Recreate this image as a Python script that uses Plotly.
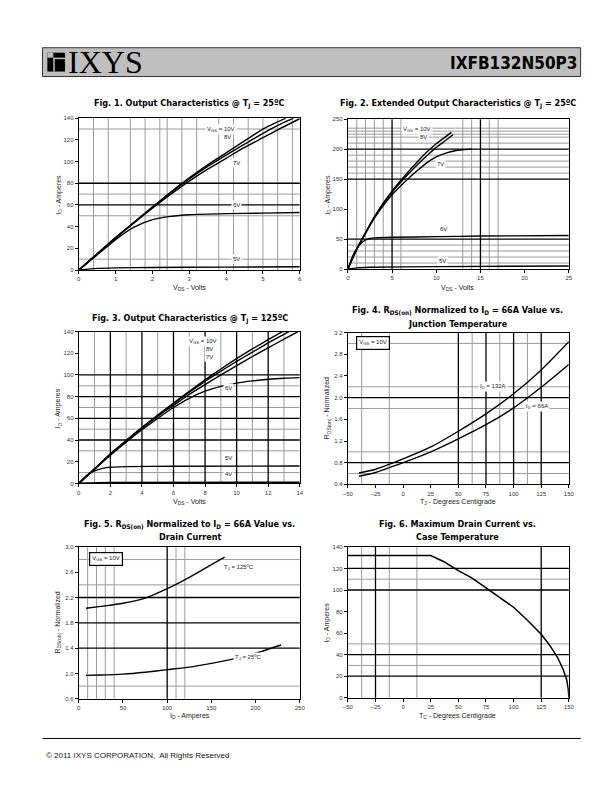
import plotly.graph_objects as go

W, H = 612, 792

# ---------------- Fig.1 Output characteristics @ 25C ----------------
f1_vgs10_x = [0, 0.5, 1, 1.5, 2, 2.5, 3, 3.5, 4, 4.5, 5, 5.62]
f1_vgs10_y = [0, 15, 30, 44, 58, 72, 85, 97, 108, 119, 130, 140]
f1_vgs8_x = [0, 0.5, 1, 1.5, 2, 2.5, 3, 3.5, 4, 4.5, 5, 5.5, 5.83]
f1_vgs8_y = [0, 15, 30, 44, 58, 71.5, 84, 95.5, 106, 116, 126, 135, 140]
f1_vgs7_x = [0, 0.5, 1, 1.5, 2, 2.5, 3, 3.5, 4, 4.5, 5, 5.5, 6]
f1_vgs7_y = [0, 15, 29.5, 43.5, 57, 70, 82, 93, 103, 113, 122, 131, 139.5]
f1_vgs6_x = [0, 0.5, 1, 1.5, 2, 2.5, 3, 4, 5, 6]
f1_vgs6_y = [0, 14, 28, 39.5, 46.5, 49.5, 51, 52, 52.5, 53]
f1_vgs5_x = [0, 0.5, 1, 2, 4, 6]
f1_vgs5_y = [0, 1.5, 2, 2.3, 2.7, 3]

# ---------------- Fig.2 Extended output characteristics ----------------
f2_vgs10_x = [0, 1, 2, 3, 4, 5, 6, 7, 8, 9, 10, 11, 11.7]
f2_vgs10_y = [0, 33, 61, 87, 110, 130, 148, 165, 181, 196, 209, 220, 228]
f2_vgs8_x = [0, 1, 2, 3, 4, 5, 6, 7, 8, 9, 10, 11, 11.9]
f2_vgs8_y = [0, 33, 60, 86, 109, 128, 145, 161, 176, 190, 203, 214, 224]
f2_vgs7_x = [0, 1, 2, 3, 4, 5, 6, 7, 8, 9, 10, 11, 12, 13, 14]
f2_vgs7_y = [0, 33, 60, 85, 106, 124, 139, 153, 166, 178, 187, 193, 197, 199, 200]
f2_vgs6_x = [0, 0.5, 1, 1.5, 2, 2.5, 3, 5, 10, 15, 25]
f2_vgs6_y = [0, 20, 34, 43, 48.5, 51, 52, 53, 54, 55, 56]
f2_vgs5_x = [0, 1, 2.5, 10, 25]
f2_vgs5_y = [0, 2, 3, 4, 5]

# ---------------- Fig.3 Output characteristics @ 125C ----------------
f3_vgs10_x = [0, 1, 2, 3, 4, 5, 6, 7, 8, 9, 10, 11, 12, 12.9]
f3_vgs10_y = [0, 13.5, 27, 39.5, 51.5, 63, 74, 85, 95.5, 105.5, 115, 124, 132.5, 140]
f3_vgs8_x = [0, 1, 2, 3, 4, 5, 6, 7, 8, 9, 10, 11, 12, 13, 13.3]
f3_vgs8_y = [0, 13.5, 27, 39.5, 51.5, 62.5, 73.5, 84, 94, 103.5, 112.5, 121, 129.5, 137.5, 140]
f3_vgs7_x = [0, 1, 2, 3, 4, 5, 6, 7, 8, 9, 10, 11, 12, 13, 13.9]
f3_vgs7_y = [0, 13.5, 27, 39, 51, 62, 72, 82, 91, 100, 108.5, 117, 125, 133, 140]
f3_vgs6_x = [0, 1, 2, 3, 4, 5, 6, 7, 8, 9, 10, 11, 12, 13, 14]
f3_vgs6_y = [0, 13, 26, 38, 49.5, 60, 70, 78.5, 85, 89.5, 92.5, 94.5, 96, 97, 97.5]
f3_vgs5_x = [0, 0.5, 1, 1.5, 2, 3, 6, 14]
f3_vgs5_y = [0, 7.5, 11.5, 13.8, 15, 15.5, 15.8, 16]
f3_vgs4_x = [0, 2, 14]
f3_vgs4_y = [0, 0.5, 0.8]

# ---------------- Fig.4 RDS(on) vs junction temperature ----------------
f4_tj = [-40, -25, 0, 25, 50, 75, 100, 125, 150]
f4_id132 = [0.61, 0.68, 0.87, 1.09, 1.38, 1.70, 2.07, 2.51, 3.03]
f4_id66 = [0.55, 0.62, 0.80, 1.00, 1.24, 1.50, 1.81, 2.19, 2.61]

# ---------------- Fig.5 RDS(on) vs drain current ----------------
f5_id_125 = [8, 25, 50, 75, 100, 125, 150, 165]
f5_r_125 = [2.03, 2.06, 2.11, 2.19, 2.34, 2.52, 2.72, 2.84]
f5_id_25 = [8, 25, 50, 75, 100, 125, 150, 175, 200, 229]
f5_r_25 = [0.97, 0.975, 0.99, 1.02, 1.06, 1.10, 1.16, 1.23, 1.32, 1.45]

# ---------------- Fig.6 Max drain current vs case temperature ----------------
f6_tc = [-50, 25, 37.5, 50, 62.5, 75, 87.5, 100, 112.5, 125, 132.5, 140, 145, 148, 149.5, 150]
f6_id = [132, 132, 126, 118, 111, 102, 93, 84, 72, 59, 49, 37, 26, 17, 8, 0]

# ---------------- tick labels ----------------
f1_xticks = [0, 1, 2, 3, 4, 5, 6]
f1_yticks = [0, 20, 40, 60, 80, 100, 120, 140]
f2_xticks = [0, 5, 10, 15, 20, 25]
f2_yticks = [0, 50, 100, 150, 200, 250]
f3_xticks = [0, 2, 4, 6, 8, 10, 12, 14]
f3_yticks = [0, 20, 40, 60, 80, 100, 120, 140]
f4_xticks = [-50, -25, 0, 25, 50, 75, 100, 125, 150]
f4_yticks = [0.4, 0.8, 1.2, 1.6, 2.0, 2.4, 2.8, 3.2]
f5_xticks = [0, 50, 100, 150, 200, 250]
f5_yticks = [0.6, 1.0, 1.4, 1.8, 2.2, 2.6, 3.0]
f6_xticks = [-50, -25, 0, 25, 50, 75, 100, 125, 150]
f6_yticks = [0, 20, 40, 60, 80, 100, 120, 140]

# ---------------- grid lines (irregular datasheet grid) ----------------
f1_vgray = [0.4, 0.8, 1.4, 1.8, 2.2, 2.4, 2.8, 3.2, 3.8, 4.2, 4.6, 5.0, 5.4, 5.8]
f1_vblack = []
f1_hgray = [10, 50, 70, 130]
f1_hblack = [60, 80]
f2_vgray = [1, 2, 3, 4, 6, 13, 14, 16, 17]
f2_vblack = [5, 15]
f2_hgray = [10, 20, 30, 40, 160, 170, 180, 190, 210, 220, 225, 230, 235]
f2_hblack = [50, 150, 200]
f3_vgray = [1, 3, 5, 7, 9, 11, 13]
f3_vblack = [2, 4, 6, 8, 10, 12]
f3_hgray = [10, 30, 50, 70, 90]
f3_hblack = [40, 60, 80, 100]
f4_vgray = [-37.5, -12.5, 62.5, 87.5, 112.5]
f4_vblack = [50, 75, 100, 125]
f4_hgray = [0.6, 1.0, 1.8, 2.2, 3.0]
f4_hblack = [0.8, 2.0]
f5_vgray = [10, 20, 30, 40, 110, 120]
f5_vblack = [100]
f5_hgray = [0.8, 2.4, 2.8]
f5_hblack = [1.4, 1.8, 2.2]
f6_vgray = [-37.5, -12.5, 12.5]
f6_vblack = [-25, 125]
f6_hgray = [30, 50, 110]
f6_hblack = [20, 40, 100, 120]

TITLE_FONT = "Liberation Sans Narrow, Arial Narrow, DejaVu Sans Condensed, Liberation Sans, sans-serif"
TEXT_FONT = "Liberation Sans, Arial, sans-serif"
GRAY = "#9a9a9a"


def px(x):
    return x / W


def py(y):
    return 1 - y / H


panels = {
    1: dict(x=(67, 292), y=(108, 261), xr=[0, 6], yr=[0, 140], xt=f1_xticks, yt=f1_yticks, fmt=None,
            grid=(f1_vgray, f1_vblack, f1_hgray, f1_hblack)),
    2: dict(x=(341, 566), y=(109, 260), xr=[0, 25], yr=[0, 250], xt=f2_xticks, yt=f2_yticks, fmt=None,
            grid=(f2_vgray, f2_vblack, f2_hgray, f2_hblack)),
    3: dict(x=(67, 292), y=(323, 476), xr=[0, 14], yr=[0, 140], xt=f3_xticks, yt=f3_yticks, fmt=None,
            grid=(f3_vgray, f3_vblack, f3_hgray, f3_hblack)),
    4: dict(x=(341, 566), y=(324, 477), xr=[-50, 150], yr=[0.4, 3.2], xt=f4_xticks, yt=f4_yticks, fmt=".1f",
            grid=(f4_vgray, f4_vblack, f4_hgray, f4_hblack)),
    5: dict(x=(67, 292), y=(540, 693), xr=[0, 250], yr=[0.6, 3.0], xt=f5_xticks, yt=f5_yticks, fmt=".1f",
            grid=(f5_vgray, f5_vblack, f5_hgray, f5_hblack)),
    6: dict(x=(341, 566), y=(540, 692), xr=[-50, 150], yr=[0, 140], xt=f6_xticks, yt=f6_yticks, fmt=None,
            grid=(f6_vgray, f6_vblack, f6_hgray, f6_hblack)),
}

fig = go.Figure()
layout = dict(
    width=W, height=H, margin=dict(l=0, r=0, t=0, b=0),
    paper_bgcolor="white", plot_bgcolor="white", showlegend=False,
    font=dict(family=TEXT_FONT, color="#222"),
)
shapes = []
annotations = []

for n, p in panels.items():
    sx = "" if n == 1 else str(n)
    layout["xaxis" + sx] = dict(
        domain=[px(p["x"][0]), px(p["x"][1])], range=p["xr"], anchor="y" + sx,
        tickvals=p["xt"], showgrid=False, zeroline=False, showline=True, mirror=True,
        linecolor="black", linewidth=1.2, ticks="outside", ticklen=3, tickcolor="black",
        tickfont=dict(size=6, color="#333", family=TEXT_FONT),
    )
    layout["yaxis" + sx] = dict(
        domain=[py(p["y"][1]), py(p["y"][0])], range=p["yr"], anchor="x" + sx,
        tickvals=p["yt"], showgrid=False, zeroline=False, showline=True, mirror=True,
        linecolor="black", linewidth=1.2, ticks="outside", ticklen=3, tickcolor="black",
        tickfont=dict(size=6, color="#333", family=TEXT_FONT),
    )
    if p["fmt"]:
        layout["yaxis" + sx]["tickformat"] = p["fmt"]
    vg, vb, hg, hb = p["grid"]
    xr, yr = "x" + sx, "y" + sx
    for v in vg:
        shapes.append(dict(type="line", xref=xr, yref=yr + " domain", x0=v, x1=v, y0=0, y1=1,
                           line=dict(color=GRAY, width=1), layer="below"))
    for v in hg:
        shapes.append(dict(type="line", xref=xr + " domain", yref=yr, x0=0, x1=1, y0=v, y1=v,
                           line=dict(color=GRAY, width=1), layer="below"))
    for v in vb:
        shapes.append(dict(type="line", xref=xr, yref=yr + " domain", x0=v, x1=v, y0=0, y1=1,
                           line=dict(color="black", width=1.3), layer="below"))
    for v in hb:
        shapes.append(dict(type="line", xref=xr + " domain", yref=yr, x0=0, x1=1, y0=v, y1=v,
                           line=dict(color="black", width=1.3), layer="below"))


def curve(n, xs, ys, width=1.4, smooth=True):
    sx = "" if n == 1 else str(n)
    line = dict(color="black", width=width)
    if smooth:
        line.update(shape="spline", smoothing=0.6)
    fig.add_trace(go.Scatter(x=xs, y=ys, mode="lines", xaxis="x" + sx, yaxis="y" + sx,
                             line=line, hoverinfo="skip"))


curve(1, f1_vgs10_x, f1_vgs10_y)
curve(1, f1_vgs8_x, f1_vgs8_y)
curve(1, f1_vgs7_x, f1_vgs7_y)
curve(1, f1_vgs6_x, f1_vgs6_y)
curve(1, f1_vgs5_x, f1_vgs5_y)
curve(2, f2_vgs10_x, f2_vgs10_y)
curve(2, f2_vgs8_x, f2_vgs8_y)
curve(2, f2_vgs7_x, f2_vgs7_y)
curve(2, f2_vgs6_x, f2_vgs6_y)
curve(2, f2_vgs5_x, f2_vgs5_y)
curve(3, f3_vgs10_x, f3_vgs10_y)
curve(3, f3_vgs8_x, f3_vgs8_y)
curve(3, f3_vgs7_x, f3_vgs7_y)
curve(3, f3_vgs6_x, f3_vgs6_y)
curve(3, f3_vgs5_x, f3_vgs5_y)
curve(3, f3_vgs4_x, f3_vgs4_y, width=2)
curve(4, f4_tj, f4_id132)
curve(4, f4_tj, f4_id66)
curve(5, f5_id_125, f5_r_125)
curve(5, f5_id_25, f5_r_25)
curve(6, f6_tc, f6_id, width=1.5, smooth=False)


def label(n, x, y, text, box=False, size=6):
    sx = "" if n == 1 else str(n)
    a = dict(xref="x" + sx, yref="y" + sx, x=x, y=y, text=text, showarrow=False,
             font=dict(size=size, color="#222", family=TEXT_FONT), bgcolor="white",
             xanchor="center", yanchor="middle", borderpad=1)
    if box:
        a.update(bordercolor="black", borderwidth=1.2, borderpad=2, xanchor="left")
    annotations.append(a)


label(1, 3.85, 130, "V<sub>GS</sub> = 10V")
label(1, 4.05, 123, "8V")
label(1, 4.27, 99, "7V")
label(1, 4.27, 60, "6V")
label(1, 4.27, 10, "5V")
label(2, 7.8, 233, "V<sub>GS</sub> = 10V")
label(2, 8.6, 221, "8V")
label(2, 10.5, 175, "7V")
label(2, 10.8, 66, "6V")
label(2, 10.7, 13, "5V")
label(3, 7.9, 131, "V<sub>GS</sub> = 10V")
label(3, 8.3, 124, "8V")
label(3, 8.3, 117, "7V")
label(3, 9.5, 88, "6V")
label(3, 9.5, 23.5, "5V")
label(3, 9.5, 8.5, "4V")
label(4, 81, 2.2, "I<sub>D</sub> = 132A")
label(4, 121, 1.83, "I<sub>D</sub> = 66A")
label(4, -43, 3.0, "V<sub>GS</sub> = 10V", box=True)
label(5, 181, 2.68, "T<sub>J</sub> = 125ºC")
label(5, 191, 1.25, "T<sub>J</sub> = 25ºC")
label(5, 11, 2.81, "V<sub>GS</sub> = 10V", box=True)


def ptext(x, y, text, size=7, family=TEXT_FONT, xanchor="center", angle=0, color="#222"):
    annotations.append(dict(xref="paper", yref="paper", x=px(x), y=py(y), text=text, showarrow=False,
                            font=dict(size=size, family=family, color=color),
                            xanchor=xanchor, yanchor="middle", textangle=angle))


TS = 9
# figure titles
ptext(180, 94, "<b>Fig. 1. Output Characteristics @ T<sub>J</sub> = 25ºC</b>", size=TS, family=TITLE_FONT, color="black")
ptext(453, 94, "<b>Fig. 2. Extended Output Characteristics @ T<sub>J</sub> = 25ºC</b>", size=TS, family=TITLE_FONT, color="black")
ptext(180, 310, "<b>Fig. 3. Output Characteristics @ T<sub>J</sub> = 125ºC</b>", size=TS, family=TITLE_FONT, color="black")
ptext(453, 302, "<b>Fig. 4. R<sub>DS(on)</sub> Normalized to I<sub>D</sub> = 66A Value vs.</b>", size=TS, family=TITLE_FONT, color="black")
ptext(453, 315, "<b>Junction Temperature</b>", size=TS, family=TITLE_FONT, color="black")
ptext(180, 517, "<b>Fig. 5. R<sub>DS(on)</sub> Normalized to I<sub>D</sub> = 66A Value vs.</b>", size=TS, family=TITLE_FONT, color="black")
ptext(180, 530, "<b>Drain Current</b>", size=TS, family=TITLE_FONT, color="black")
ptext(453, 517, "<b>Fig. 6. Maximum Drain Current vs.</b>", size=TS, family=TITLE_FONT, color="black")
ptext(453, 530, "<b>Case Temperature</b>", size=TS, family=TITLE_FONT, color="black")

# axis titles
ptext(180, 279, "V<sub>DS</sub> - Volts")
ptext(453, 279, "V<sub>DS</sub> - Volts")
ptext(180, 495, "V<sub>DS</sub> - Volts")
ptext(453, 495, "T<sub>J</sub> - Degrees Centigrade")
ptext(180, 710, "I<sub>D</sub> - Amperes")
ptext(453, 710, "T<sub>C</sub> - Degrees Centigrade")
ptext(46, 185, "I<sub>D</sub> - Amperes", angle=-90)
ptext(320, 185, "I<sub>D</sub> - Amperes", angle=-90)
ptext(46, 400, "I<sub>D</sub> - Amperes", angle=-90)
ptext(320, 400, "R<sub>DS(on)</sub> - Normalized", angle=-90)
ptext(46, 616, "R<sub>DS(on)</sub> - Normalized", angle=-90)
ptext(320, 616, "I<sub>D</sub> - Amperes", angle=-90)

# header
shapes.append(dict(type="rect", xref="paper", yref="paper", x0=px(30), x1=px(578), y0=py(66), y1=py(37),
                   fillcolor="#bfbfbf", line=dict(color="#333", width=1), layer="below"))
shapes.append(dict(type="rect", xref="paper", yref="paper", x0=px(35), x1=px(53), y0=py(61), y1=py(42),
                   fillcolor="black", line=dict(width=0)))
shapes.append(dict(type="rect", xref="paper", yref="paper", x0=px(41), x1=px(53), y0=py(48.5), y1=py(47),
                   fillcolor="#bfbfbf", line=dict(width=0)))
shapes.append(dict(type="rect", xref="paper", yref="paper", x0=px(41), x1=px(42.5), y0=py(61), y1=py(47),
                   fillcolor="#bfbfbf", line=dict(width=0)))
shapes.append(dict(type="rect", xref="paper", yref="paper", x0=px(35), x1=px(41), y0=py(47), y1=py(42),
                   fillcolor="#bfbfbf", line=dict(width=0)))
ptext(54, 51.5, "IXYS", size=32, family="Liberation Serif, Times New Roman, serif", xanchor="left", color="black")
ptext(576, 52, "<b>IXFB132N50P3</b>", size=17, family=TITLE_FONT, xanchor="right", color="black")

# footer
shapes.append(dict(type="line", xref="paper", yref="paper", x0=px(30), x1=px(578), y0=py(733), y1=py(733),
                   line=dict(color="black", width=1)))
ptext(32, 750, "© 2011 IXYS CORPORATION,  All Rights Reserved", size=8, xanchor="left", color="#111")

layout["shapes"] = shapes
layout["annotations"] = annotations
fig.update_layout(**layout)
fig.write_html("out.html")
